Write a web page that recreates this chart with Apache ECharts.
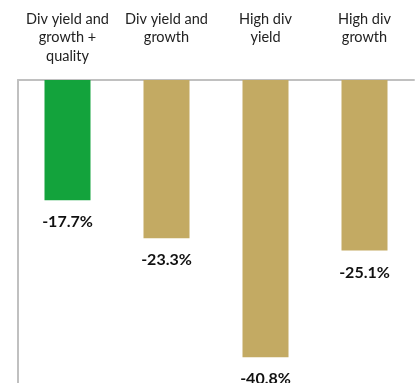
<!DOCTYPE html>
<html>
<head>
<meta charset="utf-8">
<script src="https://cdn.jsdelivr.net/npm/echarts@6/dist/echarts.min.js"></script>
<style>
  html, body { margin: 0; padding: 0; background: #fff; }
  #chart { width: 416px; height: 383px; }
</style>
</head>
<body>
<div id="chart"></div>
<script>
// Drawdown by dividend strategy
const categories = [
  'Div yield and\ngrowth +\nquality',
  'Div yield and\ngrowth',
  'High div\nyield',
  'High div\ngrowth'
];
const values = [-17.7, -23.3, -40.8, -25.1];
const barColors = ['#13a33c', '#c3aa63', '#c3aa63', '#c3aa63'];

const chart = echarts.init(document.getElementById('chart'));
chart.setOption({
  animation: false,
  grid: { left: 18, right: 2, top: 80, height: 303 },
  xAxis: {
    type: 'category',
    position: 'top',
    data: categories,
    axisLine: { show: true, lineStyle: { color: '#c0c0c0', width: 2 } },
    axisTick: { show: false },
    axisLabel: {
      interval: 0,
      color: '#222',
      fontFamily: 'Lato',
      fontSize: 14.5,
      lineHeight: 18.5,
      verticalAlign: 'top',
      margin: 70
    }
  },
  yAxis: {
    type: 'value',
    min: -44.6,
    max: 0,
    axisLine: { show: true, lineStyle: { color: '#c0c0c0', width: 2 } },
    axisTick: { show: false },
    axisLabel: { show: false },
    splitLine: { show: false }
  },
  series: [{
    type: 'bar',
    barWidth: 46,
    data: values.map((v, i) => ({ value: v, itemStyle: { color: barColors[i] } })),
    label: {
      show: true,
      position: 'bottom',
      distance: 14,
      color: '#111',
      fontFamily: 'Lato',
      fontWeight: 'bold',
      fontSize: 16,
      formatter: p => p.value.toFixed(1) + '%'
    }
  }]
});
</script>
</body>
</html>
